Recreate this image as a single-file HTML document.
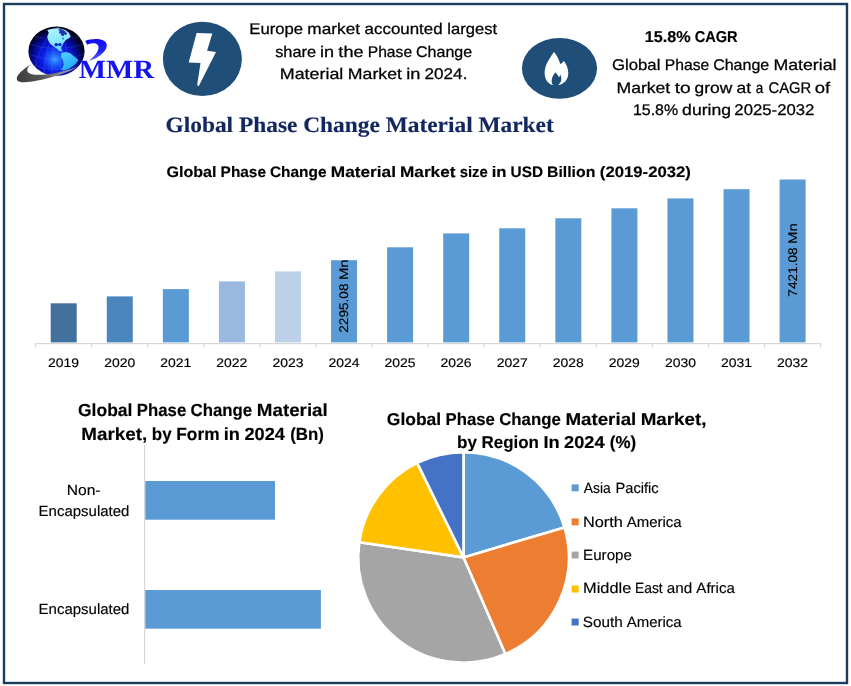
<!DOCTYPE html>
<html><head><meta charset="utf-8"><title>Global Phase Change Material Market</title>
<style>
html,body{margin:0;padding:0;background:#fff;}
body{width:851px;height:686px;overflow:hidden;font-family:"Liberation Sans",sans-serif;}
svg{display:block;will-change:transform;}
text{text-rendering:geometricPrecision;}
</style></head><body>
<svg width="851" height="686" viewBox="0 0 851 686">
<rect width="851" height="686" fill="#fff"/>
<rect x="4" y="4" width="843" height="679" fill="#ffffff" stroke="#1b3c5c" stroke-width="2.4"/>
<ellipse cx="202.4" cy="58.9" rx="39.5" ry="37.2" fill="#1f4e79"/>
<path d="M196.6 33 L212.3 33.6 L207.1 50.7 L216 52 L198.8 86.1 Q197.6 86.3 197.2 84.8 L200.5 63.1 L188.7 62.5 Z" fill="#fff"/>
<ellipse cx="559.5" cy="68.3" rx="37.6" ry="30.4" fill="#1f4e79"/>
<path d="M554 51.9 C549 59 544.6 65 544.6 73 C544.6 80 549 84.5 553 85 C550.5 81.5 551.8 76.5 555.4 72.2 C557 74.5 558.5 75.5 559 77.5 C559.6 76.6 560 75.6 560.2 74.6 C562 78 562 82.5 558 85 C563.5 84.5 568.3 80 568.3 73 C568.3 68 566 64 563.8 60.8 C563 62.5 561.8 63.6 560.2 64 C559 59 556.5 55 554 51.9 Z" fill="#fff"/>
<g font-size="15.4" font-weight="normal" fill="#000" stroke="#000" stroke-width="0.26" font-family='"Liberation Sans", sans-serif'><text x="249.27" y="33.9" textLength="53.75" lengthAdjust="spacingAndGlyphs">Europe</text><text x="307.37" y="33.9" textLength="52.66" lengthAdjust="spacingAndGlyphs">market</text><text x="364.59" y="33.9" textLength="78.02" lengthAdjust="spacingAndGlyphs">accounted</text><text x="447.36" y="33.9" textLength="49.70" lengthAdjust="spacingAndGlyphs">largest</text></g>
<g font-size="15.4" font-weight="normal" fill="#000" stroke="#000" stroke-width="0.26" font-family='"Liberation Sans", sans-serif'><text x="275.17" y="56.7" textLength="41.01" lengthAdjust="spacingAndGlyphs">share</text><text x="320.10" y="56.7" textLength="14.10" lengthAdjust="spacingAndGlyphs">in</text><text x="338.38" y="56.7" textLength="25.22" lengthAdjust="spacingAndGlyphs">the</text><text x="367.66" y="56.7" textLength="44.51" lengthAdjust="spacingAndGlyphs">Phase</text><text x="416.05" y="56.7" textLength="56.13" lengthAdjust="spacingAndGlyphs">Change</text></g>
<g font-size="15.4" font-weight="normal" fill="#000" stroke="#000" stroke-width="0.26" font-family='"Liberation Sans", sans-serif'><text x="279.77" y="78.8" textLength="63.58" lengthAdjust="spacingAndGlyphs">Material</text><text x="347.81" y="78.8" textLength="54.12" lengthAdjust="spacingAndGlyphs">Market</text><text x="406.28" y="78.8" textLength="14.19" lengthAdjust="spacingAndGlyphs">in</text><text x="424.57" y="78.8" textLength="42.84" lengthAdjust="spacingAndGlyphs">2024.</text></g>
<g font-size="15.7" font-weight="bold" fill="#000" stroke="#000" stroke-width="0.16" font-family='"Liberation Sans", sans-serif'><text x="644.73" y="41.8" textLength="46.01" lengthAdjust="spacingAndGlyphs">15.8%</text><text x="694.71" y="41.8" textLength="42.97" lengthAdjust="spacingAndGlyphs">CAGR</text></g>
<g font-size="15.4" font-weight="normal" fill="#000" stroke="#000" stroke-width="0.26" font-family='"Liberation Sans", sans-serif'><text x="611.96" y="70.0" textLength="48.41" lengthAdjust="spacingAndGlyphs">Global</text><text x="664.82" y="70.0" textLength="44.48" lengthAdjust="spacingAndGlyphs">Phase</text><text x="713.16" y="70.0" textLength="56.09" lengthAdjust="spacingAndGlyphs">Change</text><text x="773.40" y="70.0" textLength="63.10" lengthAdjust="spacingAndGlyphs">Material</text></g>
<g font-size="15.4" font-weight="normal" fill="#000" stroke="#000" stroke-width="0.26" font-family='"Liberation Sans", sans-serif'><text x="616.49" y="92.9" textLength="53.78" lengthAdjust="spacingAndGlyphs">Market</text><text x="674.76" y="92.9" textLength="15.94" lengthAdjust="spacingAndGlyphs">to</text><text x="694.55" y="92.9" textLength="37.63" lengthAdjust="spacingAndGlyphs">grow</text><text x="736.63" y="92.9" textLength="14.51" lengthAdjust="spacingAndGlyphs">at</text><text x="755.82" y="92.9" textLength="7.51" lengthAdjust="spacingAndGlyphs">a</text><text x="768.47" y="92.9" textLength="42.66" lengthAdjust="spacingAndGlyphs">CAGR</text><text x="814.73" y="92.9" textLength="15.43" lengthAdjust="spacingAndGlyphs">of</text></g>
<g font-size="15.4" font-weight="normal" fill="#000" stroke="#000" stroke-width="0.26" font-family='"Liberation Sans", sans-serif'><text x="632.98" y="115.1" textLength="45.19" lengthAdjust="spacingAndGlyphs">15.8%</text><text x="682.14" y="115.1" textLength="48.99" lengthAdjust="spacingAndGlyphs">during</text><text x="734.37" y="115.1" textLength="80.00" lengthAdjust="spacingAndGlyphs">2025-2032</text></g>
<g font-size="22" font-weight="bold" fill="#12265f" stroke="#12265f" stroke-width="0.16" font-family='"Liberation Serif", serif'><text x="165.57" y="131.5" textLength="67.54" lengthAdjust="spacingAndGlyphs">Global</text><text x="238.95" y="131.5" textLength="58.43" lengthAdjust="spacingAndGlyphs">Phase</text><text x="303.23" y="131.5" textLength="76.63" lengthAdjust="spacingAndGlyphs">Change</text><text x="385.69" y="131.5" textLength="86.95" lengthAdjust="spacingAndGlyphs">Material</text><text x="478.49" y="131.5" textLength="75.28" lengthAdjust="spacingAndGlyphs">Market</text></g>
<g font-size="15.2" font-weight="bold" fill="#000" stroke="#000" stroke-width="0.16" font-family='"Liberation Sans", sans-serif'><text x="166.56" y="176.8" textLength="49.98" lengthAdjust="spacingAndGlyphs">Global</text><text x="220.63" y="176.8" textLength="45.35" lengthAdjust="spacingAndGlyphs">Phase</text><text x="269.92" y="176.8" textLength="56.61" lengthAdjust="spacingAndGlyphs">Change</text><text x="330.79" y="176.8" textLength="65.18" lengthAdjust="spacingAndGlyphs">Material</text><text x="400.06" y="176.8" textLength="55.44" lengthAdjust="spacingAndGlyphs">Market</text><text x="459.65" y="176.8" textLength="28.15" lengthAdjust="spacingAndGlyphs">size</text><text x="491.74" y="176.8" textLength="14.82" lengthAdjust="spacingAndGlyphs">in</text><text x="510.56" y="176.8" textLength="32.45" lengthAdjust="spacingAndGlyphs">USD</text><text x="547.02" y="176.8" textLength="48.31" lengthAdjust="spacingAndGlyphs">Billion</text><text x="599.83" y="176.8" textLength="91.09" lengthAdjust="spacingAndGlyphs">(2019-2032)</text></g>
<rect x="50.70" y="303.3" width="26" height="39.10" fill="#41719c"/>
<rect x="106.77" y="296.4" width="26" height="46.00" fill="#4a86bd"/>
<rect x="162.84" y="289.1" width="26" height="53.30" fill="#5b9bd5"/>
<rect x="218.91" y="281.4" width="26" height="61.00" fill="#9ab9e0"/>
<rect x="274.98" y="271.4" width="26" height="71.00" fill="#bdd0ea"/>
<rect x="331.05" y="260.2" width="26" height="82.20" fill="#5b9bd5"/>
<rect x="387.12" y="247.3" width="26" height="95.10" fill="#5b9bd5"/>
<rect x="443.19" y="233.4" width="26" height="109.00" fill="#5b9bd5"/>
<rect x="499.26" y="228.3" width="26" height="114.10" fill="#5b9bd5"/>
<rect x="555.33" y="218.3" width="26" height="124.10" fill="#5b9bd5"/>
<rect x="611.40" y="208.3" width="26" height="134.10" fill="#5b9bd5"/>
<rect x="667.47" y="198.4" width="26" height="144.00" fill="#5b9bd5"/>
<rect x="723.54" y="189.2" width="26" height="153.20" fill="#5b9bd5"/>
<rect x="779.61" y="179.5" width="26" height="162.90" fill="#5b9bd5"/>
<path d="M35.6 343.6 H820.58" stroke="#d6d6d6" stroke-width="1.1" fill="none"/>
<path d="M35.60 343.6 V347.6 M91.67 343.6 V347.6 M147.74 343.6 V347.6 M203.81 343.6 V347.6 M259.88 343.6 V347.6 M315.95 343.6 V347.6 M372.02 343.6 V347.6 M428.09 343.6 V347.6 M484.16 343.6 V347.6 M540.23 343.6 V347.6 M596.30 343.6 V347.6 M652.37 343.6 V347.6 M708.44 343.6 V347.6 M764.51 343.6 V347.6 M820.58 343.6 V347.6 " stroke="#d6d6d6" stroke-width="1.1" fill="none"/>
<text x="63.64" y="367.1" font-size="12.5" font-weight="normal" fill="#000" stroke="#000" stroke-width="0.15" text-anchor="middle" font-family='"Liberation Sans", sans-serif' textLength="31" lengthAdjust="spacingAndGlyphs">2019</text>
<text x="119.70" y="367.1" font-size="12.5" font-weight="normal" fill="#000" stroke="#000" stroke-width="0.15" text-anchor="middle" font-family='"Liberation Sans", sans-serif' textLength="31" lengthAdjust="spacingAndGlyphs">2020</text>
<text x="175.78" y="367.1" font-size="12.5" font-weight="normal" fill="#000" stroke="#000" stroke-width="0.15" text-anchor="middle" font-family='"Liberation Sans", sans-serif' textLength="31" lengthAdjust="spacingAndGlyphs">2021</text>
<text x="231.84" y="367.1" font-size="12.5" font-weight="normal" fill="#000" stroke="#000" stroke-width="0.15" text-anchor="middle" font-family='"Liberation Sans", sans-serif' textLength="31" lengthAdjust="spacingAndGlyphs">2022</text>
<text x="287.92" y="367.1" font-size="12.5" font-weight="normal" fill="#000" stroke="#000" stroke-width="0.15" text-anchor="middle" font-family='"Liberation Sans", sans-serif' textLength="31" lengthAdjust="spacingAndGlyphs">2023</text>
<text x="343.99" y="367.1" font-size="12.5" font-weight="normal" fill="#000" stroke="#000" stroke-width="0.15" text-anchor="middle" font-family='"Liberation Sans", sans-serif' textLength="31" lengthAdjust="spacingAndGlyphs">2024</text>
<text x="400.06" y="367.1" font-size="12.5" font-weight="normal" fill="#000" stroke="#000" stroke-width="0.15" text-anchor="middle" font-family='"Liberation Sans", sans-serif' textLength="31" lengthAdjust="spacingAndGlyphs">2025</text>
<text x="456.13" y="367.1" font-size="12.5" font-weight="normal" fill="#000" stroke="#000" stroke-width="0.15" text-anchor="middle" font-family='"Liberation Sans", sans-serif' textLength="31" lengthAdjust="spacingAndGlyphs">2026</text>
<text x="512.20" y="367.1" font-size="12.5" font-weight="normal" fill="#000" stroke="#000" stroke-width="0.15" text-anchor="middle" font-family='"Liberation Sans", sans-serif' textLength="31" lengthAdjust="spacingAndGlyphs">2027</text>
<text x="568.26" y="367.1" font-size="12.5" font-weight="normal" fill="#000" stroke="#000" stroke-width="0.15" text-anchor="middle" font-family='"Liberation Sans", sans-serif' textLength="31" lengthAdjust="spacingAndGlyphs">2028</text>
<text x="624.34" y="367.1" font-size="12.5" font-weight="normal" fill="#000" stroke="#000" stroke-width="0.15" text-anchor="middle" font-family='"Liberation Sans", sans-serif' textLength="31" lengthAdjust="spacingAndGlyphs">2029</text>
<text x="680.40" y="367.1" font-size="12.5" font-weight="normal" fill="#000" stroke="#000" stroke-width="0.15" text-anchor="middle" font-family='"Liberation Sans", sans-serif' textLength="31" lengthAdjust="spacingAndGlyphs">2030</text>
<text x="736.48" y="367.1" font-size="12.5" font-weight="normal" fill="#000" stroke="#000" stroke-width="0.15" text-anchor="middle" font-family='"Liberation Sans", sans-serif' textLength="31" lengthAdjust="spacingAndGlyphs">2031</text>
<text x="792.54" y="367.1" font-size="12.5" font-weight="normal" fill="#000" stroke="#000" stroke-width="0.15" text-anchor="middle" font-family='"Liberation Sans", sans-serif' textLength="31" lengthAdjust="spacingAndGlyphs">2032</text>
<g font-size="12.5" font-weight="normal" fill="#000" stroke="#000" stroke-width="0.15" font-family='"Liberation Sans", sans-serif' transform="translate(347.7 332.1) rotate(-90)"><text x="-0.68" y="0" textLength="49.31" lengthAdjust="spacingAndGlyphs">2295.08</text><text x="52.08" y="0" textLength="20.66" lengthAdjust="spacingAndGlyphs">Mn</text></g>
<g font-size="12.5" font-weight="normal" fill="#000" stroke="#000" stroke-width="0.15" font-family='"Liberation Sans", sans-serif' transform="translate(796.5 296.0) rotate(-90)"><text x="-0.68" y="0" textLength="49.31" lengthAdjust="spacingAndGlyphs">7421.08</text><text x="52.08" y="0" textLength="20.66" lengthAdjust="spacingAndGlyphs">Mn</text></g>
<g font-size="17.6" font-weight="bold" fill="#000" stroke="#000" stroke-width="0.16" font-family='"Liberation Sans", sans-serif'><text x="78.00" y="416.1" textLength="54.41" lengthAdjust="spacingAndGlyphs">Global</text><text x="136.87" y="416.1" textLength="49.38" lengthAdjust="spacingAndGlyphs">Phase</text><text x="190.54" y="416.1" textLength="61.63" lengthAdjust="spacingAndGlyphs">Change</text><text x="256.81" y="416.1" textLength="70.97" lengthAdjust="spacingAndGlyphs">Material</text></g>
<g font-size="17.6" font-weight="bold" fill="#000" stroke="#000" stroke-width="0.16" font-family='"Liberation Sans", sans-serif'><text x="81.37" y="439.8" textLength="65.84" lengthAdjust="spacingAndGlyphs">Market,</text><text x="151.81" y="439.8" textLength="19.85" lengthAdjust="spacingAndGlyphs">by</text><text x="176.31" y="439.8" textLength="43.22" lengthAdjust="spacingAndGlyphs">Form</text><text x="223.82" y="439.8" textLength="16.16" lengthAdjust="spacingAndGlyphs">in</text><text x="244.41" y="439.8" textLength="40.44" lengthAdjust="spacingAndGlyphs">2024</text><text x="290.13" y="439.8" textLength="33.70" lengthAdjust="spacingAndGlyphs">(Bn)</text></g>
<path d="M144.6 445 V664" stroke="#d6d6d6" stroke-width="1.1" fill="none"/>
<rect x="145.3" y="481" width="129.7" height="38.7" fill="#5b9bd5"/>
<rect x="145.3" y="590" width="175.6" height="38.7" fill="#5b9bd5"/>
<g font-size="14.7" font-weight="normal" fill="#000" stroke="#000" stroke-width="0.15" font-family='"Liberation Sans", sans-serif'><text x="66.75" y="494.7" textLength="33.82" lengthAdjust="spacingAndGlyphs">Non-</text></g>
<g font-size="14.7" font-weight="normal" fill="#000" stroke="#000" stroke-width="0.15" font-family='"Liberation Sans", sans-serif'><text x="38.60" y="515.8" textLength="90.84" lengthAdjust="spacingAndGlyphs">Encapsulated</text></g>
<g font-size="14.7" font-weight="normal" fill="#000" stroke="#000" stroke-width="0.15" font-family='"Liberation Sans", sans-serif'><text x="38.60" y="614.4" textLength="90.84" lengthAdjust="spacingAndGlyphs">Encapsulated</text></g>
<g font-size="17.2" font-weight="bold" fill="#000" stroke="#000" stroke-width="0.16" font-family='"Liberation Sans", sans-serif'><text x="386.80" y="424.6" textLength="54.35" lengthAdjust="spacingAndGlyphs">Global</text><text x="445.60" y="424.6" textLength="49.32" lengthAdjust="spacingAndGlyphs">Phase</text><text x="499.21" y="424.6" textLength="61.56" lengthAdjust="spacingAndGlyphs">Change</text><text x="565.40" y="424.6" textLength="70.89" lengthAdjust="spacingAndGlyphs">Material</text><text x="640.73" y="424.6" textLength="65.65" lengthAdjust="spacingAndGlyphs">Market,</text></g>
<g font-size="17.2" font-weight="bold" fill="#000" stroke="#000" stroke-width="0.16" font-family='"Liberation Sans", sans-serif'><text x="457.08" y="447.9" textLength="19.86" lengthAdjust="spacingAndGlyphs">by</text><text x="481.61" y="447.9" textLength="57.27" lengthAdjust="spacingAndGlyphs">Region</text><text x="543.44" y="447.9" textLength="16.20" lengthAdjust="spacingAndGlyphs">In</text><text x="564.06" y="447.9" textLength="40.46" lengthAdjust="spacingAndGlyphs">2024</text><text x="609.80" y="447.9" textLength="26.33" lengthAdjust="spacingAndGlyphs">(%)</text></g>
<path d="M463.5 557.4 L463.50 452.10 A105.3 105.3 0 0 1 564.46 527.49 Z" fill="#5b9bd5" stroke="#fff" stroke-width="2.6" stroke-linejoin="round"/>
<path d="M463.5 557.4 L564.46 527.49 A105.3 105.3 0 0 1 505.32 654.04 Z" fill="#ed7d31" stroke="#fff" stroke-width="2.6" stroke-linejoin="round"/>
<path d="M463.5 557.4 L505.32 654.04 A105.3 105.3 0 0 1 359.30 542.20 Z" fill="#a5a5a5" stroke="#fff" stroke-width="2.6" stroke-linejoin="round"/>
<path d="M463.5 557.4 L359.30 542.20 A105.3 105.3 0 0 1 417.17 462.84 Z" fill="#ffc000" stroke="#fff" stroke-width="2.6" stroke-linejoin="round"/>
<path d="M463.5 557.4 L417.17 462.84 A105.3 105.3 0 0 1 463.50 452.10 Z" fill="#4472c4" stroke="#fff" stroke-width="2.6" stroke-linejoin="round"/>
<rect x="571.6" y="484.4" width="7.1" height="6.9" fill="#5b9bd5"/>
<g font-size="14.8" font-weight="normal" fill="#000" stroke="#000" stroke-width="0.15" font-family='"Liberation Sans", sans-serif'><text x="583.80" y="492.8" textLength="26.97" lengthAdjust="spacingAndGlyphs">Asia</text><text x="615.58" y="492.8" textLength="43.12" lengthAdjust="spacingAndGlyphs">Pacific</text></g>
<rect x="571.6" y="518.4" width="7.1" height="6.9" fill="#ed7d31"/>
<g font-size="14.8" font-weight="normal" fill="#000" stroke="#000" stroke-width="0.15" font-family='"Liberation Sans", sans-serif'><text x="582.99" y="526.5" textLength="39.95" lengthAdjust="spacingAndGlyphs">North</text><text x="626.73" y="526.5" textLength="54.91" lengthAdjust="spacingAndGlyphs">America</text></g>
<rect x="571.6" y="551.6" width="7.1" height="6.9" fill="#a5a5a5"/>
<g font-size="14.8" font-weight="normal" fill="#000" stroke="#000" stroke-width="0.15" font-family='"Liberation Sans", sans-serif'><text x="583.09" y="559.7" textLength="48.86" lengthAdjust="spacingAndGlyphs">Europe</text></g>
<rect x="571.6" y="585.6" width="7.1" height="6.9" fill="#ffc000"/>
<g font-size="14.8" font-weight="normal" fill="#000" stroke="#000" stroke-width="0.15" font-family='"Liberation Sans", sans-serif'><text x="582.99" y="593.4" textLength="48.28" lengthAdjust="spacingAndGlyphs">Middle</text><text x="635.01" y="593.4" textLength="27.68" lengthAdjust="spacingAndGlyphs">East</text><text x="666.85" y="593.4" textLength="25.44" lengthAdjust="spacingAndGlyphs">and</text><text x="696.34" y="593.4" textLength="38.60" lengthAdjust="spacingAndGlyphs">Africa</text></g>
<rect x="571.6" y="618.6" width="7.1" height="6.9" fill="#4472c4"/>
<g font-size="14.8" font-weight="normal" fill="#000" stroke="#000" stroke-width="0.15" font-family='"Liberation Sans", sans-serif'><text x="582.89" y="626.6" textLength="39.92" lengthAdjust="spacingAndGlyphs">South</text><text x="626.67" y="626.6" textLength="54.98" lengthAdjust="spacingAndGlyphs">America</text></g>
<defs>
<radialGradient id="gl" gradientUnits="userSpaceOnUse" cx="55" cy="58.5" r="32" fx="55" fy="59.5">
<stop offset="0" stop-color="#3aa0ff"/><stop offset="0.16" stop-color="#1f66fb"/><stop offset="0.4" stop-color="#0c1ce6"/><stop offset="0.6" stop-color="#080eb8"/><stop offset="0.77" stop-color="#04066c"/><stop offset="0.9" stop-color="#01022c"/><stop offset="1" stop-color="#000010"/>
</radialGradient>
<linearGradient id="ct" x1="0" y1="0" x2="0.3" y2="1"><stop offset="0" stop-color="#b4f5ff"/><stop offset="0.6" stop-color="#8be9ff"/><stop offset="1" stop-color="#5fd6ff"/></linearGradient>
<linearGradient id="ct2" x1="0" y1="0" x2="0.7" y2="1"><stop offset="0" stop-color="#55d2ff"/><stop offset="1" stop-color="#1aa6f6"/></linearGradient>
<linearGradient id="sw" gradientUnits="userSpaceOnUse" x1="16" y1="80" x2="80" y2="66"><stop offset="0" stop-color="#3c3c3c"/><stop offset="0.4" stop-color="#575757"/><stop offset="0.7" stop-color="#8a8a92"/><stop offset="1" stop-color="#a9a9bb"/></linearGradient>
<linearGradient id="hk" gradientUnits="userSpaceOnUse" x1="86" y1="40" x2="92" y2="60"><stop offset="0" stop-color="#0c0cf0"/><stop offset="0.7" stop-color="#2020f6"/><stop offset="1" stop-color="#5a5af8"/></linearGradient>
<clipPath id="gc"><ellipse cx="56.5" cy="51.2" rx="28.1" ry="24.6"/></clipPath>
</defs>
<g>
<ellipse cx="56.5" cy="51.2" rx="28.1" ry="24.6" fill="url(#gl)"/>
<g clip-path="url(#gc)">
<g stroke="#5a9cff" stroke-width="0.4" fill="none" opacity="0.5">
<path d="M58 26 Q44 50 44 76 M58 26 Q51 50 52 76 M58 26 Q36 48 34 74 M58 26 Q60 50 61 76 M58 26 Q70 50 70 76"/>
<path d="M29 44 Q55 53 85 44 M28 54 Q55 65 85 54 M31 64 Q55 75 82 64 M33 36 Q55 42 82 36"/>
</g>
<path d="M47.2 29.9 L52 28.7 L57.5 28.3 L61.4 28.7 L65.3 29.9 L68.9 32.7 L70.8 36.6 L68.5 38.6 L66.1 39.7 L63.8 42.5 L62.4 45.4 L61.2 47.6 L61.6 50 L63 51.6 L59 50.8 L56.7 48.4 L52.8 46 L49.6 42.9 L48 39.7 L47.2 36.6 L48.8 32.7 Z" fill="url(#ct)"/>
<path d="M58.2 29.6 L60.4 29 L63 29.8 L65.4 31.4 L67 33.6 L66.2 35 L64.4 34.4 L63.4 36.2 L61.4 35.6 L60.6 33.6 L58.8 33 L59.6 31.2 Z" fill="#0a14a0" opacity="0.85"/>
<path d="M62.6 37.6 L64.2 38.4 L63.6 39.6 L62.2 39 Z" fill="#0a14a0" opacity="0.7"/>
<ellipse cx="56.3" cy="44.7" rx="1.8" ry="1.6" fill="#0b1fd0"/><ellipse cx="59.9" cy="44.6" rx="1.7" ry="1.5" fill="#0b1fd0"/>
<path d="M61.4 53.1 L65.3 51.9 L70.1 53.1 L74 56.3 L78.3 59.8 L76.4 63.3 L72.4 66.5 L67.7 69.2 L63 70.4 L61.4 69.6 L63.8 64.9 L63 60.2 L61 57 Z" fill="url(#ct2)"/>
</g>
<path d="M30.8 64.3 C23 69.5 14.8 76 17.2 80.2 C19.8 84.6 38 81.2 53.6 76.6 C63 73.8 72 70 78.4 66.4 C70 69.4 61 72 53 73.4 C42 75.4 30.4 75.6 27.8 72 C26.2 69.6 28.4 66.6 30.8 64.3 Z" fill="url(#sw)"/>
<path d="M85.2 41 C90 38.9 98 38.3 103 40.2 C107.2 41.9 107.8 46.2 105.2 50.2 C101.8 55.2 95 59.3 88.9 60.7 C94 57 97.6 53 98.5 48.6 C99.1 45.1 96.6 43.2 93 43.3 C90.5 43.4 88.5 44 87.2 44.7 Z" fill="url(#hk)"/>
<text x="78.8" y="77.9" font-family='"Liberation Serif", serif' font-weight="bold" font-size="26.3" fill="#1414f0" textLength="75.4" lengthAdjust="spacingAndGlyphs">MMR</text>
</g>

</svg>
</body></html>
